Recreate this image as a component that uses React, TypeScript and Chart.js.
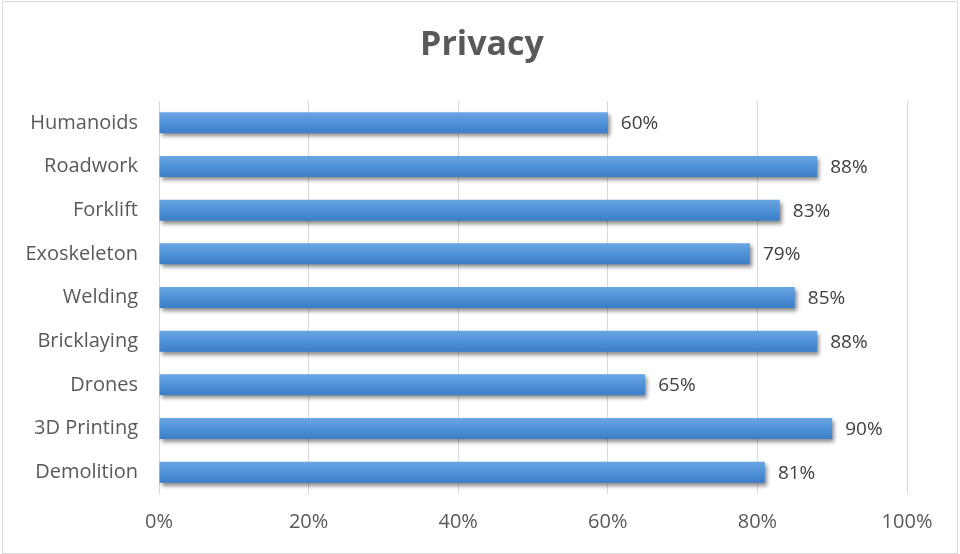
import React, { useEffect, useRef } from "react";
import { Chart, registerables } from "chart.js";

Chart.register(...registerables);

const categories = ["Humanoids", "Roadwork", "Forklift", "Exoskeleton", "Welding", "Bricklaying", "Drones", "3D Printing", "Demolition"];
const values = [60, 88, 83, 79, 85, 88, 65, 90, 81];
const titleText = "Privacy";
const FONT = "'Open Sans', sans-serif";

export default function App() {
  const ref = useRef<HTMLCanvasElement | null>(null);
  useEffect(() => {
    document.body.style.margin = "0";
    const canvas = ref.current!;
    const ctx = canvas.getContext("2d")!;

    const extras = {
      id: "extras",
      beforeDatasetsDraw(chart: any) {
        const c = chart.ctx;
        c.save();
        c.shadowColor = "rgba(0,0,0,0.45)";
        c.shadowBlur = 4;
        c.shadowOffsetX = 2;
        c.shadowOffsetY = 3;
      },
      afterDatasetsDraw(chart: any) {
        const c = chart.ctx;
        c.restore();
        const meta = chart.getDatasetMeta(0);
        c.save();
        c.font = `19px ${FONT}`;
        c.fillStyle = "#404040";
        c.textAlign = "left";
        c.textBaseline = "middle";
        meta.data.forEach((el: any, i: number) => {
          c.fillText(values[i] + "%", el.x + 13, el.y + 1);
        });
        c.restore();
      },
      afterDraw(chart: any) {
        const c = chart.ctx;
        c.save();
        c.font = `bold 34px ${FONT}`;
        c.fillStyle = "#595959";
        c.textAlign = "center";
        c.textBaseline = "middle";
        c.fillText(titleText, 482, 45);
        c.restore();
      },
    };

    const chart = new Chart(ctx, {
      type: "bar",
      data: {
        labels: categories,
        datasets: [
          {
            data: values,
            backgroundColor: (context: any) => {
              const ch = context.chart;
              const ys = ch.scales && ch.scales.y;
              if (!ys || !ch.chartArea) return "#4a8fd6";
              const y = ys.getPixelForValue(context.dataIndex);
              if (!isFinite(y)) return "#4a8fd6";
              const h = 21;
              const g = ch.ctx.createLinearGradient(0, y - h / 2, 0, y + h / 2);
              g.addColorStop(0, "#6aa6e2");
              g.addColorStop(0.5, "#4f92d8");
              g.addColorStop(1, "#3b7ec8");
              return g;
            },
            borderWidth: 0,
            barPercentage: 0.48,
            categoryPercentage: 1,
          },
        ],
      },
      options: {
        indexAxis: "y",
        responsive: false,
        animation: false,
        layout: { padding: { left: 0, right: 53, top: 101, bottom: 0 } },
        plugins: { legend: { display: false }, title: { display: false }, tooltip: { enabled: false } },
        scales: {
          x: {
            min: 0,
            max: 100,
            ticks: {
              stepSize: 20,
              callback: (v: any) => v + "%",
              color: "#595959",
              font: { family: FONT, size: 20 },
              padding: 16,
            },
            grid: { color: "#d9d9d9", lineWidth: 1, drawTicks: false },
            border: { display: false },
            afterFit: (s: any) => { s.height = 60; },
          },
          y: {
            ticks: {
              color: "#595959",
              font: { family: FONT, size: 20 },
              padding: 21,
            },
            grid: { display: false, drawTicks: false },
            border: { display: false },
            afterFit: (s: any) => { s.width = 159; },
          },
        },
      },
      plugins: [extras],
    } as any);
    return () => chart.destroy();
  }, []);

  return (
    <div style={{ position: "fixed", left: 0, top: 0, width: 960, height: 554, background: "#fff" }}>
      <canvas ref={ref} width={960} height={554} style={{ position: "absolute", left: 0, top: 0 }} />
      <div style={{ position: "absolute", left: 2, top: 1, width: 954, height: 551, border: "1px solid #d9d9d9", pointerEvents: "none" }} />
    </div>
  );
}
